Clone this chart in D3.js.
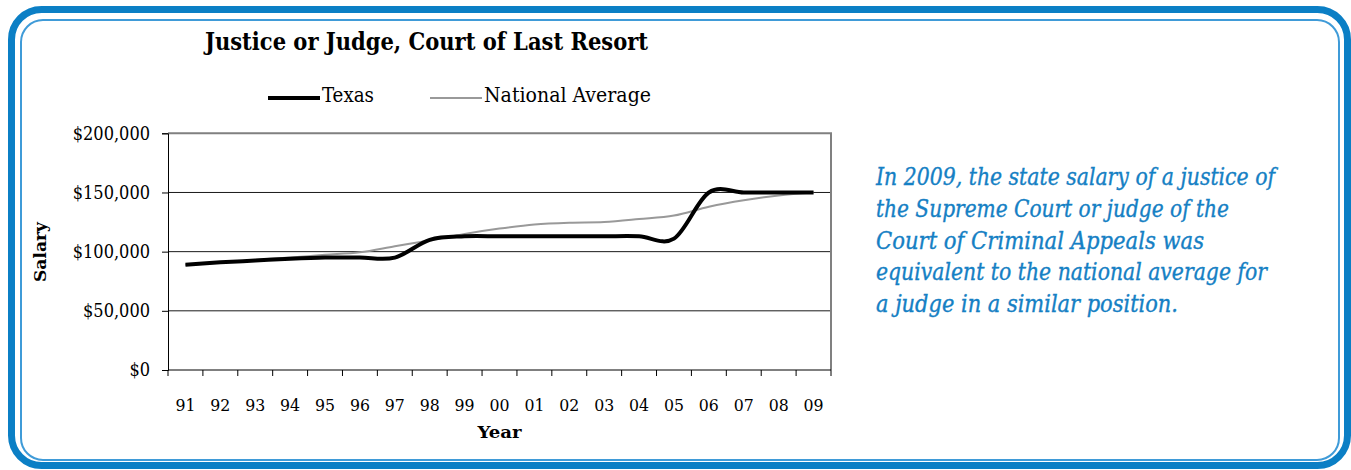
<!DOCTYPE html>
<html lang="en">
<head>
<meta charset="UTF-8">
<title>Justice or Judge, Court of Last Resort</title>
<script src="https://cdnjs.cloudflare.com/ajax/libs/d3/7.8.5/d3.min.js"></script>
<style>
    body { margin: 0; background: #fff; }
    svg { display: block; }
    text { font-family: 'DejaVu Serif Condensed', 'DejaVu Serif', serif; font-stretch: condensed; }
</style>
</head>
<body>
<svg id="chart" width="1351" height="470"></svg>
<script>
// data
const years = ['91', '92', '93', '94', '95', '96', '97', '98', '99', '00',
               '01', '02', '03', '04', '05', '06', '07', '08', '09'];
const texas = [89000, 91000, 92500, 94000, 95000, 95000, 95000, 110000, 113000, 113000,
               113000, 113000, 113000, 113000, 111000, 150000, 150000, 150000, 150000];
const national = [88700, 90800, 93000, 95100, 97300, 99400, 104500, 109500, 115000, 119500,
                  123000, 124500, 125000, 127500, 130500, 138000, 143500, 147500, 150000];
const yTicks = [0, 50000, 100000, 150000, 200000];
const noteLines = [
    'In 2009, the state salary of a justice of',
    'the Supreme Court or judge of the',
    'Court of Criminal Appeals was',
    'equivalent to the national average for',
    'a judge in a similar position.'
];

const svg = d3.select('#chart');
const blue = '#0b7fc5';

// frame
svg.append('rect')
    .attr('x', 11.5).attr('y', 9.5).attr('width', 1336).attr('height', 456)
    .attr('rx', 30).attr('fill', 'none')
    .attr('stroke', blue).attr('stroke-width', 7);
svg.append('rect')
    .attr('x', 21).attr('y', 20).attr('width', 1318).attr('height', 440)
    .attr('rx', 22).attr('fill', 'none')
    .attr('stroke', '#3f9bd8').attr('stroke-width', 2);

const plotL = 168, plotR = 831, plotT = 133.3, plotB = 370;
const x = d3.scaleLinear().domain([-0.5, years.length - 0.5]).range([plotL, plotR]);
const y = d3.scaleLinear().domain([0, 200000]).range([plotB, plotT]);

// gridlines
svg.append('g').selectAll('line')
    .data(yTicks.filter(d => d > 0 && d < 200000))
    .enter().append('line')
    .attr('x1', plotL).attr('x2', plotR)
    .attr('y1', d => y(d)).attr('y2', d => y(d))
    .attr('stroke', '#1a1a1a').attr('stroke-width', 1);

// plot border (top, right)
svg.append('path')
    .attr('d', `M${plotL},${y(200000)}H${plotR}V${plotB}`)
    .attr('fill', 'none').attr('stroke', '#808080').attr('stroke-width', 2);

// y axis
const yAxis = d3.axisLeft(y).tickValues(yTicks).tickSize(6).tickPadding(12)
    .tickFormat(d => '$' + d3.format(',')(d));
const gy = svg.append('g').attr('transform', `translate(${plotL},0)`).call(yAxis);
gy.select('.domain').attr('stroke', '#000');
gy.selectAll('.tick line').attr('stroke', '#000');
gy.selectAll('text').attr('font-size', 18).attr('font-family', null).attr('fill', '#000');

// x axis: ticks between categories
const gx = svg.append('g').attr('transform', `translate(0,${plotB})`);
gx.append('line').attr('x1', plotL).attr('x2', plotR).attr('stroke', '#000');
gx.selectAll('.tk').data(d3.range(years.length + 1)).enter().append('line')
    .attr('x1', i => x(i - 0.5)).attr('x2', i => x(i - 0.5))
    .attr('y1', 0).attr('y2', 6).attr('stroke', '#000');
gx.selectAll('text').data(years).enter().append('text')
    .attr('x', (d, i) => x(i)).attr('y', 41)
    .attr('text-anchor', 'middle').attr('font-size', 17.5).text(d => d);

// lines (smoothed like the spreadsheet)
const line = d3.line().x((d, i) => x(i)).y(d => y(d)).curve(d3.curveCardinal.tension(0));
svg.append('path').datum(national).attr('d', line)
    .attr('fill', 'none').attr('stroke', '#999').attr('stroke-width', 2);
svg.append('path').datum(texas).attr('d', line)
    .attr('fill', 'none').attr('stroke', '#000').attr('stroke-width', 4);

// axis titles
svg.append('text').attr('x', (plotL + plotR) / 2).attr('y', 438)
    .attr('text-anchor', 'middle').attr('font-size', 17.5).attr('font-weight', 'bold')
    .attr('textLength', 44).attr('lengthAdjust', 'spacingAndGlyphs').text('Year');
svg.append('text').attr('transform', 'translate(46,252) rotate(-90)')
    .attr('text-anchor', 'middle').attr('font-size', 17.5).attr('font-weight', 'bold')
    .attr('textLength', 60).attr('lengthAdjust', 'spacingAndGlyphs').text('Salary');

// title
svg.append('text').attr('x', 205).attr('y', 50)
    .attr('font-size', 24.5).attr('font-weight', 'bold')
    .attr('textLength', 443).attr('lengthAdjust', 'spacingAndGlyphs')
    .text('Justice or Judge, Court of Last Resort');

// legend
const legend = svg.append('g');
legend.append('line').attr('x1', 268).attr('x2', 320).attr('y1', 98).attr('y2', 98)
    .attr('stroke', '#000').attr('stroke-width', 4);
legend.append('text').attr('x', 322).attr('y', 102).attr('font-size', 19.5)
    .attr('textLength', 52).attr('lengthAdjust', 'spacingAndGlyphs').text('Texas');
legend.append('line').attr('x1', 430).attr('x2', 482).attr('y1', 98).attr('y2', 98)
    .attr('stroke', '#999').attr('stroke-width', 2);
legend.append('text').attr('x', 484).attr('y', 102).attr('font-size', 19.5)
    .attr('textLength', 167).attr('lengthAdjust', 'spacingAndGlyphs').text('National Average');

// note
const noteWidths = [399, 353, 328, 391, 302];
svg.append('g').selectAll('text').data(noteLines).enter().append('text')
    .attr('x', 876).attr('y', (d, i) => 185 + i * 31.8)
    .attr('font-size', 24.5).attr('font-style', 'italic').attr('fill', '#1580c4')
    .attr('stroke', '#1580c4').attr('stroke-width', 0.35)
    .attr('textLength', (d, i) => noteWidths[i]).attr('lengthAdjust', 'spacingAndGlyphs')
    .text(d => d);
</script>
</body>
</html>
